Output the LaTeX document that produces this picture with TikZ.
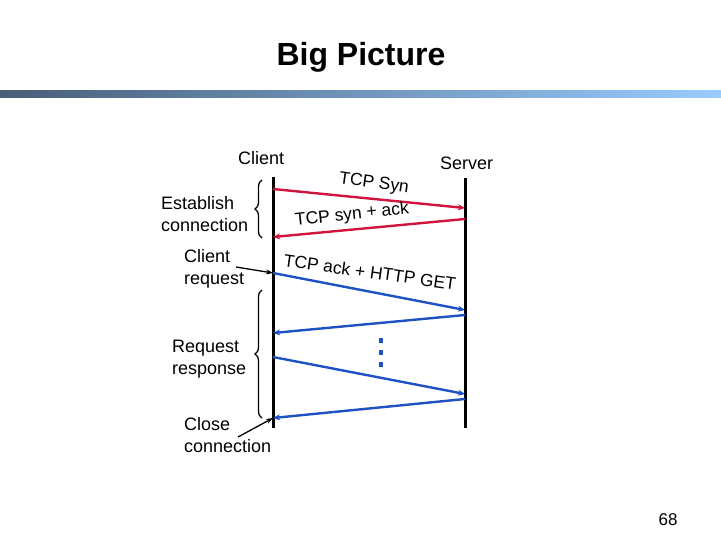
\documentclass[tikz,border=0pt]{standalone}
\usepackage{fontspec}
\setmainfont{Liberation Sans}
\usetikzlibrary{arrows.meta,decorations.pathreplacing}
\definecolor{msgred}{RGB}{208,20,62}
\definecolor{msgblue}{RGB}{30,82,196}
\definecolor{bardark}{RGB}{72,94,120}
\definecolor{barlight}{RGB}{153,204,255}
\tikzset{
  lbl/.style={font=\fontsize{18}{21.5}\selectfont, align=left, inner sep=0pt, anchor=west},
  msg/.style={font=\fontsize{17.5}{20}\selectfont, inner sep=0pt},
  life/.style={line width=3pt},
  redmsg/.style={draw=msgred, line width=2.4pt, -{Stealth[length=7pt,width=6pt]}},
  bluemsg/.style={draw=msgblue, line width=2.4pt, -{Stealth[length=7pt,width=6pt]}},
  ptr/.style={draw=black, line width=1.3pt, -{Stealth[length=7pt,width=5pt]}},
  brc/.style={draw=black, line width=1.3pt, decorate, decoration={brace, amplitude=7pt}}
}
\begin{document}
\begin{tikzpicture}[x=1pt,y=-1pt]
\useasboundingbox[fill=white] (0,0) rectangle (721,541);
% title bar
\shade[left color=bardark, right color=barlight] (0,90) rectangle (721,97);
\node (title) at (361,57) {\fontsize{32}{36}\selectfont\bfseries Big Picture};
% lifelines
\coordinate (c0) at (273,177);
\coordinate (c1) at (273,428);
\coordinate (s0) at (465,178);
\coordinate (s1) at (465,428);
\draw[life] (c0) -- (c1);
\draw[life] (s0) -- (s1);
\node[lbl] (client) at (238,158) {Client};
\node[lbl] (server) at (440,163) {Server};
% message points
\coordinate (a1) at (273,189); \coordinate (b1) at (465,208);
\coordinate (b2) at (465,219); \coordinate (a2) at (273,237);
\coordinate (a3) at (273,273); \coordinate (b3) at (465,310);
\coordinate (b4) at (465,315); \coordinate (a4) at (273,333);
\coordinate (a5) at (273,357); \coordinate (b5) at (465,394);
\coordinate (b6) at (465,399); \coordinate (a6) at (273,418);
\draw[redmsg] (a1) -- (b1);
\draw[redmsg] (b2) -- (a2);
\draw[bluemsg] (a3) -- (b3);
\draw[bluemsg] (b4) -- (a4);
\draw[bluemsg] (a5) -- (b5);
\draw[bluemsg] (b6) -- (a6);
\node[msg, rotate=-8] (syn) at (374,184) {TCP Syn};
\node[msg, rotate=6] (synack) at (352,215) {TCP syn + ack};
\node[msg, rotate=-8] (get) at (370,272) {TCP ack + HTTP GET};
% dots
\foreach \yy [count=\i] in {338,350,362}
  \fill[msgblue] (379,\yy) rectangle ++(4,5) coordinate (d\i);
% braces
\coordinate (e0) at (262,238); \coordinate (e1) at (262,180);
\draw[brc] (e0) -- (e1);
\coordinate (r0) at (262,418); \coordinate (r1) at (262,290);
\draw[brc] (r0) -- (r1);
% left labels
\node[lbl] (estab) at (161,214) {Establish\\connection};
\node[lbl] (creq) at (184,269) {Client\\request};
\node[lbl] (rresp) at (172,359) {Request\\response};
\node[lbl] (close) at (184,435) {Close\\connection};
\coordinate (p1) at (236,267);
\coordinate (p2) at (238,437);
\draw[ptr] (p1) -- (a3);
\draw[ptr] (p2) -- (a6);
% page number
\node[font=\fontsize{17}{19}\selectfont] (page) at (668,520) {68};
\end{tikzpicture}
\end{document}
